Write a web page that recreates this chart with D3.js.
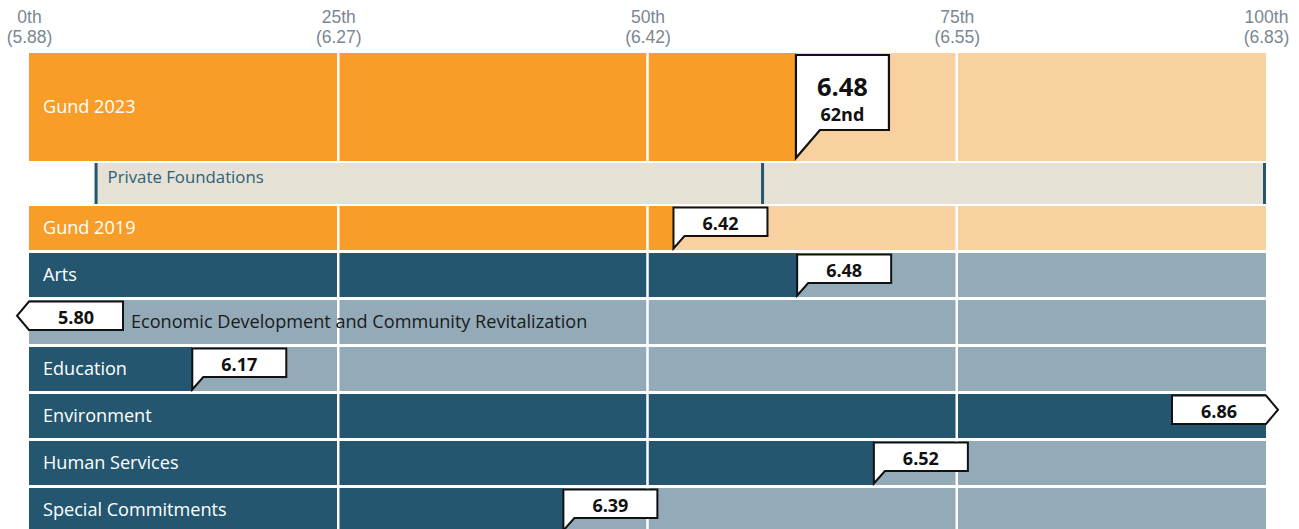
<!DOCTYPE html>
<html>
<head>
<meta charset="utf-8">
<script src="https://cdn.jsdelivr.net/npm/d3@7"></script>
<style>
  html, body { margin: 0; padding: 0; background: #fff; }
  svg { display: block; font-family: "Open Sans", "Noto Sans", sans-serif; }
</style>
</head>
<body>
<svg id="chart" width="1299" height="529"></svg>
<script>
// ---- data ----
const categories = ["Gund 2023", "Private Foundations", "Gund 2019", "Arts",
  "Economic Development and Community Revitalization", "Education",
  "Environment", "Human Services", "Special Commitments"];
const rowGroups = ["gund", "peer", "gund", "program", "program", "program", "program", "program", "program"];
const scores = [6.48, null, 6.42, 6.48, 5.80, 6.17, 6.86, 6.52, 6.39];
const percentiles = [62, null, 52.1, 62.1, 0, 13.2, 100, 68.3, 43.2];
const rankLabels = ["62nd", null, null, null, null, null, null, null, null];
const peerMarkers = [5.3, 59.3, 100];
const tickPercentiles = [0, 25, 50, 75, 100];
const tickLabels = ["0th", "25th", "50th", "75th", "100th"];
const tickScores = [5.88, 6.27, 6.42, 6.55, 6.83];

// ---- layout ----
const W = 1299, H = 529;
const svg = d3.select("#chart");
const x = d3.scaleLinear().domain([0, 100]).range([29, 1266]);
const scoreMin = d3.min(tickScores), scoreMax = d3.max(tickScores);

function rowBox(i) {
  if (i === 0) return { top: 53, h: 108 };
  if (i === 1) return { top: 163, h: 41 };
  return { top: 206 + (i - 2) * 47, h: 44 };
}

const colors = {
  gund: { dark: "#F89D28", light: "#F9D0A0" },
  program: { dark: "#24576F", light: "#93AAB8" },
  peer: "#E5E1D5", peerLine: "#24576F", peerText: "#2F6079",
  axis: "#7A8793"
};

// ---- axis ----
const axis = d3.axisTop(x).tickValues(tickPercentiles).tickSize(0).tickFormat(() => "");
const gAxis = svg.append("g").attr("transform", "translate(0,40)").call(axis);
gAxis.select(".domain").remove();
gAxis.selectAll(".tick text").remove();
gAxis.selectAll(".tick").each(function (d, i) {
  const t = d3.select(this).append("text")
    .attr("text-anchor", "middle")
    .attr("fill", colors.axis)
    .attr("font-size", 17.5);
  t.append("tspan").attr("x", 0).attr("y", -17).text(tickLabels[i]);
  t.append("tspan").attr("x", 0).attr("y", 3).text("(" + tickScores[i].toFixed(2) + ")");
});

// ---- rows ----
const gRows = svg.append("g");
categories.forEach((cat, i) => {
  const { top, h } = rowBox(i);
  const grp = rowGroups[i];
  if (grp === "peer") {
    gRows.append("rect").attr("x", x(peerMarkers[0])).attr("y", top)
      .attr("width", x(100) - x(peerMarkers[0])).attr("height", h).attr("fill", colors.peer);
    peerMarkers.forEach((p, k) => {
      let px = x(p);
      if (k === 0) px += 1.5; else if (p >= 100) px -= 1.5;
      gRows.append("line").attr("x1", px).attr("x2", px).attr("y1", top).attr("y2", top + h)
        .attr("stroke", colors.peerLine).attr("stroke-width", 3);
    });
    return;
  }
  const c = colors[grp];
  gRows.append("rect").attr("x", x(0)).attr("y", top).attr("width", x(100) - x(0))
    .attr("height", h).attr("fill", c.light);
  gRows.append("rect").attr("x", x(0)).attr("y", top).attr("width", x(percentiles[i]) - x(0))
    .attr("height", h).attr("fill", c.dark);
});

// ---- gridlines ----
const gGrid = svg.append("g");
categories.forEach((cat, i) => {
  if (rowGroups[i] === "peer") return;
  const { top, h } = rowBox(i);
  [25, 50, 75].forEach(p => {
    gGrid.append("line").attr("x1", x(p)).attr("x2", x(p)).attr("y1", top).attr("y2", top + h)
      .attr("stroke", "#fff").attr("stroke-width", 2.5);
  });
});

// ---- labels ----
const gLab = svg.append("g");
categories.forEach((cat, i) => {
  const { top, h } = rowBox(i);
  if (rowGroups[i] === "peer") {
    gLab.append("text").attr("x", x(peerMarkers[0]) + 13).attr("y", top + 14)
      .attr("dy", "0.35em").attr("fill", colors.peerText).attr("font-size", 16.8).text(cat);
    return;
  }
  const below = scores[i] < scoreMin;
  gLab.append("text")
    .attr("x", below ? x(0) + 102 : 43)
    .attr("y", top + h / 2).attr("dy", "0.35em")
    .attr("fill", below ? "#1a1a1a" : "#fff")
    .attr("font-size", 18.1)
    .text(cat);
});

// ---- callouts ----
const gCall = svg.append("g");
categories.forEach((cat, i) => {
  if (scores[i] == null) return;
  const { top, h } = rowBox(i);
  const v = scores[i];
  const txt = v.toFixed(2);
  if (i === 0) {
    const bx = x(percentiles[i]), bw = 93, bt = top + 2, bb = top + 77;
    gCall.append("path")
      .attr("d", `M${bx},${bt} H${bx + bw} V${bb} H${bx + 24} L${bx},${top + h - 3} Z`)
      .attr("fill", "#fff").attr("stroke", "#111").attr("stroke-width", 2.2);
    gCall.append("text").attr("x", bx + bw / 2).attr("y", 96).attr("text-anchor", "middle")
      .attr("font-size", 25.5).attr("font-weight", 700).attr("fill", "#111").text(txt);
    gCall.append("text").attr("x", bx + bw / 2).attr("y", 120.5).attr("text-anchor", "middle")
      .attr("font-size", 18).attr("font-weight", 700).attr("fill", "#111").text(rankLabels[i]);
    return;
  }
  const bt = top + 1.5, bb = top + 30, bw = 94;
  let d, cx;
  if (v < scoreMin) {
    const bx = x(0);
    d = `M${bx},${bt} H${bx + bw} V${bb} H${bx} L${bx - 12},${(bt + bb) / 2} Z`;
    cx = bx + bw / 2;
  } else if (v > scoreMax) {
    const bx = x(100);
    d = `M${bx},${bt} H${bx - bw} V${bb} H${bx} L${bx + 12},${(bt + bb) / 2} Z`;
    cx = bx - bw / 2;
  } else {
    const bx = x(percentiles[i]);
    d = `M${bx},${bt} H${bx + bw} V${bb} H${bx + 11} L${bx},${top + h - 1.5} Z`;
    cx = bx + bw / 2;
  }
  gCall.append("path").attr("d", d).attr("fill", "#fff").attr("stroke", "#111").attr("stroke-width", 2);
  gCall.append("text").attr("x", cx).attr("y", (bt + bb) / 2 + 1.5).attr("dy", "0.37em")
    .attr("text-anchor", "middle").attr("font-size", 18).attr("font-weight", 700)
    .attr("fill", "#111").text(txt);
});
</script>
</body>
</html>
